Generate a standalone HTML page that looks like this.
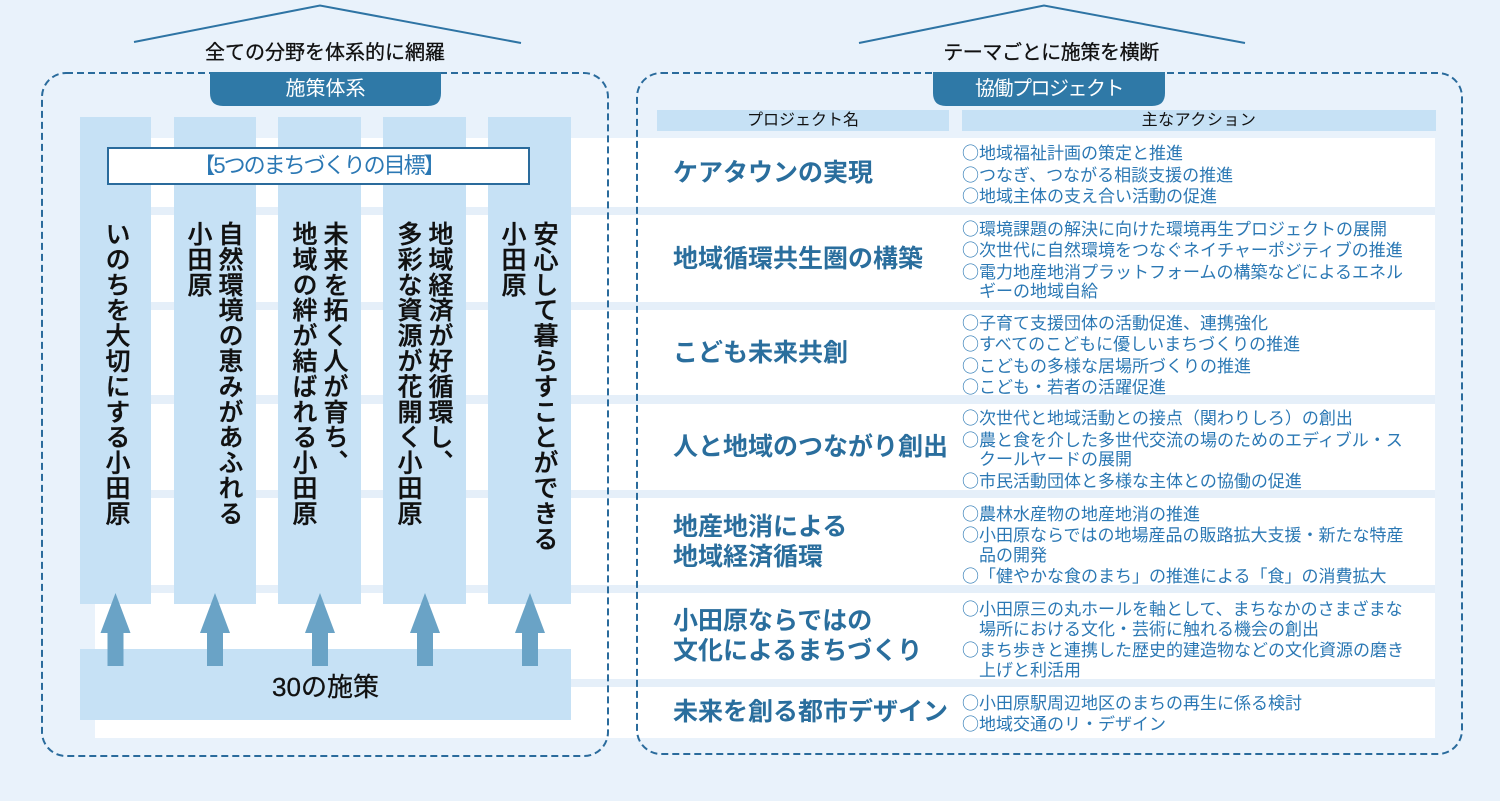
<!DOCTYPE html>
<html lang="ja"><head><meta charset="utf-8">
<style>
*{margin:0;padding:0;box-sizing:border-box}
html,body{width:1500px;height:801px;overflow:hidden;background:#e9f2fb}
body{position:relative;font-family:"Liberation Sans","Noto Sans CJK JP",sans-serif}
svg.bg{position:absolute;left:0;top:0}
.t{position:absolute;white-space:nowrap}
.title{font-size:20px;color:#111;top:40px;line-height:26px;text-align:center;width:300px;-webkit-text-stroke:0.3px #111}
.tab{font-size:20px;color:#fff;line-height:24px;text-align:center}
.hdr{font-size:16px;color:#111;line-height:21px;text-align:center;top:110px}
.vt{position:absolute;writing-mode:vertical-rl;font-size:25px;line-height:31px;width:31px;top:221px;letter-spacing:0.4px;color:#111;font-weight:500;-webkit-text-stroke:0.4px #111;font-family:"Liberation Sans","Noto Sans CJK JP",sans-serif;white-space:nowrap}
.name{position:absolute;left:673px;font-size:25px;line-height:30px;color:#2a6e9d;font-weight:700;display:flex;align-items:center;white-space:nowrap}
.act{position:absolute;left:962px;font-size:17px;line-height:19.5px;color:#2b78b4;display:flex;flex-direction:column;justify-content:center;white-space:nowrap}
.act .ind{padding-left:17px}
.c{font-family:"Noto Sans CJK JP",sans-serif}
</style></head><body>
<svg class="bg" width="1500" height="801" viewBox="0 0 1500 801">
  <rect x="95" y="138" width="1340" height="600" fill="#ffffff"/>
  <g fill="#e5eff9">
    <rect x="95" y="207" width="1340" height="8"/>
    <rect x="95" y="302" width="1340" height="8"/>
    <rect x="95" y="395" width="1340" height="9"/>
    <rect x="95" y="490" width="1340" height="8"/>
    <rect x="95" y="585" width="1340" height="8"/>
    <rect x="95" y="679" width="1340" height="8"/>
  </g>
  <g fill="#c6e1f5">
    <rect x="80" y="117" width="71" height="487"/>
    <rect x="174" y="117" width="82" height="487"/>
    <rect x="278" y="117" width="83" height="487"/>
    <rect x="383" y="117" width="83" height="487"/>
    <rect x="488" y="117" width="83" height="487"/>
    <rect x="80" y="649" width="491" height="71"/>
  </g>
  <g fill="#6aa3c6">
    <path d="M115.5 593 L130.5 633 L123.5 633 L123.5 666 L107.5 666 L107.5 633 L100.5 633 Z"/>
    <path d="M215 593 L230 633 L223 633 L223 666 L207 666 L207 633 L200 633 Z"/>
    <path d="M320 593 L335 633 L328 633 L328 666 L312 666 L312 633 L305 633 Z"/>
    <path d="M425 593 L440 633 L433 633 L433 666 L417 666 L417 633 L410 633 Z"/>
    <path d="M530 593 L545 633 L538 633 L538 666 L522 666 L522 633 L515 633 Z"/>
  </g>
  <rect x="108" y="148" width="421" height="36" fill="#fff" stroke="#2a6b9c" stroke-width="2"/>
  <rect x="657" y="110" width="292" height="21" fill="#c6e1f5"/>
  <rect x="962" y="110" width="474" height="21" fill="#c6e1f5"/>
  <rect x="42" y="73" width="566" height="683" rx="24" ry="24" fill="none" stroke="#2a6b9c" stroke-width="2" stroke-dasharray="7 4"/>
  <rect x="637" y="73" width="825" height="681" rx="24" ry="24" fill="none" stroke="#2a6b9c" stroke-width="2" stroke-dasharray="7 4"/>
  <path d="M210 72 L441 72 L441 93 Q441 106 428 106 L223 106 Q210 106 210 93 Z" fill="#2f79a7"/>
  <path d="M933 72 L1165 72 L1165 93 Q1165 106 1152 106 L946 106 Q933 106 933 93 Z" fill="#2f79a7"/>
  <polyline points="134,42 320,5.5 521,43" fill="none" stroke="#2e74a4" stroke-width="2"/>
  <polyline points="859,43 1044,5.5 1245,43" fill="none" stroke="#2e74a4" stroke-width="2"/>
</svg>

<div class="t title" style="left:175px">全ての分野を体系的に網羅</div>
<div class="t title" style="left:901px;letter-spacing:-0.4px">テーマごとに施策を横断</div>

<div class="t tab" style="left:210px;width:231px;top:77px">施策体系</div>
<div class="t tab" style="left:933px;width:232px;top:77px;letter-spacing:-1.5px">協働プロジェクト</div>

<div class="t hdr" style="left:657px;width:292px">プロジェクト名</div>
<div class="t hdr" style="left:962px;width:474px;letter-spacing:0.5px">主なアクション</div>

<div class="t" style="left:108px;width:421px;top:148px;height:36px;line-height:36px;text-align:center;font-size:22px;color:#2b78b4;letter-spacing:-2px">【5つのまちづくりの目標】</div>

<div class="vt" style="left:100px">いのちを大切にする小田原</div>
<div class="vt" style="left:213px">自然環境の恵みがあふれる</div>
<div class="vt" style="left:182px">小田原</div>
<div class="vt" style="left:318px">未来を拓く人が育ち、</div>
<div class="vt" style="left:287px">地域の絆が結ばれる小田原</div>
<div class="vt" style="left:423px">地域経済が好循環し、</div>
<div class="vt" style="left:392px">多彩な資源が花開く小田原</div>
<div class="vt" style="left:528px">安心して暮らすことができる</div>
<div class="vt" style="left:496px">小田原</div>

<div class="t" style="left:80px;width:491px;top:671px;line-height:32px;text-align:center;font-size:26px;color:#111;-webkit-text-stroke:0.3px #111">30の施策</div>

<div class="name" style="top:138px;height:69px">ケアタウンの実現</div>
<div class="act" style="top:140px;height:69px">
  <div><span class="c">○</span>地域福祉計画の策定と推進</div>
  <div><span class="c">○</span>つなぎ、つながる相談支援の推進</div>
  <div><span class="c">○</span>地域主体の支え合い活動の促進</div>
</div>

<div class="name" style="top:215px;height:87px">地域循環共生圏の構築</div>
<div class="act" style="top:216px;height:87px">
  <div><span class="c">○</span>環境課題の解決に向けた環境再生プロジェクトの展開</div>
  <div><span class="c">○</span>次世代に自然環境をつなぐネイチャーポジティブの推進</div>
  <div><span class="c">○</span>電力地産地消プラットフォームの構築などによるエネル</div>
  <div class="ind">ギーの地域自給</div>
</div>

<div class="name" style="top:310px;height:85px">こども未来共創</div>
<div class="act" style="top:312px;height:85px">
  <div><span class="c">○</span>子育て支援団体の活動促進、連携強化</div>
  <div><span class="c">○</span>すべてのこどもに優しいまちづくりの推進</div>
  <div><span class="c">○</span>こどもの多様な居場所づくりの推進</div>
  <div><span class="c">○</span>こども・若者の活躍促進</div>
</div>

<div class="name" style="top:404px;height:86px">人と地域のつながり創出</div>
<div class="act" style="top:406px;height:86px">
  <div><span class="c">○</span>次世代と地域活動との接点（関わりしろ）の創出</div>
  <div><span class="c">○</span>農と食を介した多世代交流の場のためのエディブル・ス</div>
  <div class="ind">クールヤードの展開</div>
  <div><span class="c">○</span>市民活動団体と多様な主体との協働の促進</div>
</div>

<div class="name" style="top:498px;height:87px">地産地消による<br>地域経済循環</div>
<div class="act" style="top:501px;height:87px">
  <div><span class="c">○</span>農林水産物の地産地消の推進</div>
  <div><span class="c">○</span>小田原ならではの地場産品の販路拡大支援・新たな特産</div>
  <div class="ind">品の開発</div>
  <div><span class="c">○</span>「健やかな食のまち」の推進による「食」の消費拡大</div>
</div>

<div class="name" style="top:593px;height:86px">小田原ならではの<br>文化によるまちづくり</div>
<div class="act" style="top:596px;height:86px">
  <div><span class="c">○</span>小田原三の丸ホールを軸として、まちなかのさまざまな</div>
  <div class="ind">場所における文化・芸術に触れる機会の創出</div>
  <div><span class="c">○</span>まち歩きと連携した歴史的建造物などの文化資源の磨き</div>
  <div class="ind">上げと利活用</div>
</div>

<div class="name" style="top:687px;height:50px">未来を創る都市デザイン</div>
<div class="act" style="top:688px;height:50px">
  <div><span class="c">○</span>小田原駅周辺地区のまちの再生に係る検討</div>
  <div><span class="c">○</span>地域交通のリ・デザイン</div>
</div>
</body></html>
